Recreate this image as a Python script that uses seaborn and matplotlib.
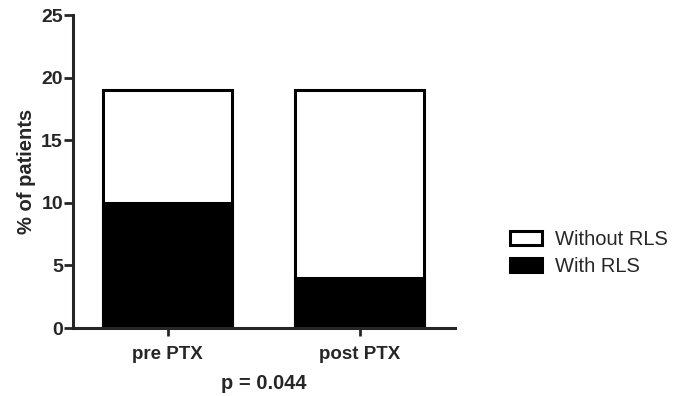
import pandas as pd
import matplotlib
matplotlib.use("Agg")
import matplotlib.pyplot as plt
import seaborn as sns
from matplotlib.patches import Patch

# values
groups = ["pre PTX", "post PTX"]
with_rls = [10, 4]
without_rls = [9, 15]
y_ticks = [0, 5, 10, 15, 20, 25]

df = pd.DataFrame({"group": groups, "with": with_rls, "without": without_rls})
df["total"] = df["with"] + df["without"]

sns.set_style("ticks")
plt.rcParams["font.family"] = ["Liberation Sans", "DejaVu Sans"]

fig = plt.figure(figsize=(6.73, 3.96), dpi=100)
ax = fig.add_axes([0.109, 0.1717, 0.567, 0.7904])

sns.barplot(data=df, x="group", y="total", color="white", edgecolor="black",
            linewidth=2.2, width=0.67, ax=ax, saturation=1)
sns.barplot(data=df, x="group", y="with", color="black", edgecolor="black",
            linewidth=2.2, width=0.67, ax=ax, saturation=1)

ax.set_xlim(-0.49, 1.495)
ax.set_ylim(0, 25)
ax.set_yticks(y_ticks)
ax.set_xlabel("p = 0.044", fontsize=14.5, fontweight="bold", labelpad=8)
ax.set_ylabel("% of patients", fontsize=14.5, fontweight="bold", labelpad=4)

for lab in ax.get_xticklabels() + ax.get_yticklabels():
    lab.set_fontweight("bold")
ax.tick_params(axis="x", labelsize=13.5, length=6, width=2, pad=7)
ax.tick_params(axis="y", labelsize=14, length=6.5, width=2, pad=1)

sns.despine(ax=ax)
for s in ["left", "bottom"]:
    ax.spines[s].set_linewidth(2.2)

handles = [Patch(facecolor="white", edgecolor="black", linewidth=2.2, label="Without RLS"),
           Patch(facecolor="black", edgecolor="black", linewidth=2.2, label="With RLS")]
fig.legend(handles=handles, loc="center left", bbox_to_anchor=(0.758, 0.361),
           frameon=False, fontsize=14.5, handlelength=1.6, handleheight=0.75,
           labelspacing=0.4, handletextpad=0.65, borderpad=0, borderaxespad=0)

fig.savefig("out.png", dpi=100)
